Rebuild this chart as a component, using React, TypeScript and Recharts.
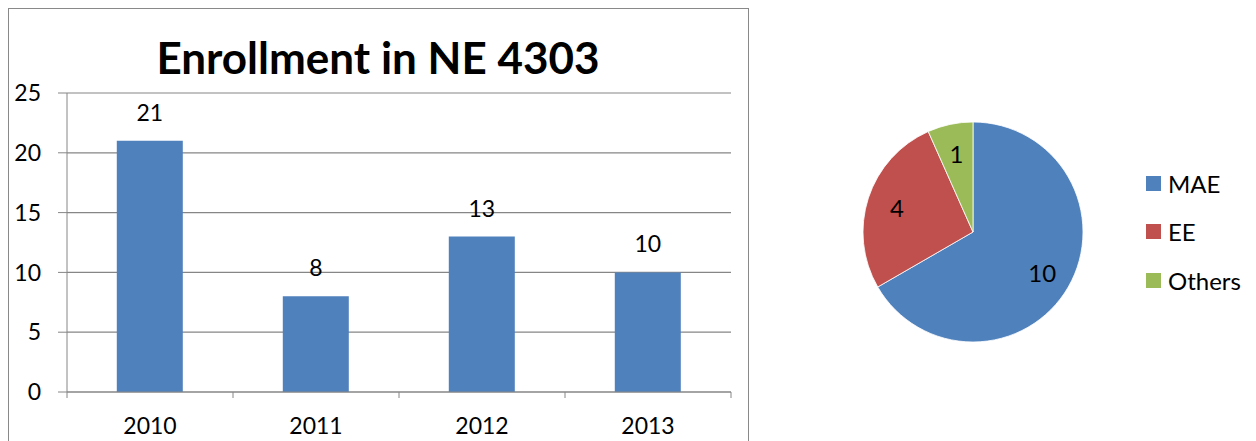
import React from "react";
import {
  BarChart,
  Bar,
  XAxis,
  YAxis,
  CartesianGrid,
  LabelList,
  PieChart,
  Pie,
  Cell,
  Legend,
} from "recharts";

const years = ["2010", "2011", "2012", "2013"];
const enrollment = [21, 8, 13, 10];
const yTicks = [0, 5, 10, 15, 20, 25];

const majors = ["MAE", "EE", "Others"];
const majorCounts = [10, 4, 1];

const FONT = "Lato, 'Open Sans', sans-serif";
const AXIS = "#868686";
const BLUE = "#4F81BD";
const PIE_COLORS = ["#4F81BD", "#C0504D", "#9BBB59"];

// bar chart layout
const BAR_W = 760;
const BAR_H = 441;
const PLOT_LEFT = 67;
const PLOT_RIGHT = 731;
const BAND = (PLOT_RIGHT - PLOT_LEFT) / years.length;

const barData = years.map((year, i) => ({ year, value: enrollment[i] }));
const pieData = majors.map((name, i) => ({ name, value: majorCounts[i] }));

function YearTick(props: any) {
  const { x, y, payload, index } = props;
  const half = BAND / 2;
  return (
    <g>
      <line x1={x - half} x2={x - half} y1={y} y2={y + 6} stroke={AXIS} />
      {index === years.length - 1 && (
        <line x1={x + half} x2={x + half} y1={y} y2={y + 6} stroke={AXIS} />
      )}
      <text x={x} y={y + 42} textAnchor="middle" fontSize={23} fontFamily={FONT} fill="#000">
        {payload.value}
      </text>
    </g>
  );
}

const RADIAN = Math.PI / 180;

function sliceLabel(props: any) {
  const { cx, cy, midAngle, value } = props;
  const r = 80;
  const x = cx + r * Math.cos(-midAngle * RADIAN);
  const y = cy + r * Math.sin(-midAngle * RADIAN);
  return (
    <text
      x={x}
      y={y}
      textAnchor="middle"
      dominantBaseline="central"
      fontSize={24}
      fontFamily={FONT}
      fill="#000"
    >
      {value}
    </text>
  );
}

// legend kept in the data order (MAE, EE, Others)
function PieLegend() {
  return (
    <div style={{ fontFamily: FONT, fontSize: 24, color: "#000" }}>
      {pieData.map((d, i) => (
        <div key={d.name} style={{ display: "flex", alignItems: "center", height: 48.5 }}>
          <span
            style={{
              display: "inline-block",
              width: 15,
              height: 15,
              background: PIE_COLORS[i],
              marginRight: 7,
            }}
          />
          <span>{d.name}</span>
        </div>
      ))}
    </div>
  );
}

export default function App() {
  return (
    <div style={{ position: "absolute", left: 0, top: 0, width: 1256, height: 441, background: "#fff", overflow: "hidden" }}>
      <div
        style={{
          position: "absolute",
          left: 8,
          top: 8,
          width: 741,
          height: 460,
          border: "1px solid #898989",
          boxSizing: "border-box",
        }}
      />
      <div
        style={{
          position: "absolute",
          left: 8,
          width: 740,
          top: 35,
          textAlign: "center",
          fontFamily: FONT,
          fontWeight: 700,
          fontSize: 44,
          lineHeight: "44px",
          color: "#000",
        }}
      >
        Enrollment in NE 4303
      </div>
      <div style={{ position: "absolute", left: 0, top: 0 }}>
        <BarChart
          width={BAR_W}
          height={BAR_H}
          data={barData}
          margin={{ top: 93, right: BAR_W - PLOT_RIGHT, bottom: 0, left: 0 }}
          barCategoryGap="30%"
        >
          <CartesianGrid vertical={false} stroke={AXIS} strokeWidth={1.2} />
          <XAxis
            dataKey="year"
            height={49}
            interval={0}
            tickLine={false}
            tickSize={0}
            tickMargin={0}
            stroke={AXIS}
            tick={<YearTick />}
          />
          <YAxis
            width={PLOT_LEFT}
            domain={[0, 25]}
            ticks={yTicks}
            tickSize={9}
            tickMargin={17}
            stroke={AXIS}
            tick={{ fill: "#000", fontSize: 23, fontFamily: FONT }}
          />
          <Bar dataKey="value" fill={BLUE} isAnimationActive={false}>
            <LabelList
              dataKey="value"
              position="top"
              offset={20}
              fill="#000"
              fontSize={23}
              fontFamily={FONT}
            />
          </Bar>
        </BarChart>
      </div>
      <div style={{ position: "absolute", left: 760, top: 0 }}>
        <PieChart width={496} height={441} margin={{ top: 0, right: 0, bottom: 0, left: 0 }}>
          <Pie
            data={pieData}
            dataKey="value"
            nameKey="name"
            cx={213}
            cy={232}
            outerRadius={110}
            startAngle={90}
            endAngle={-270}
            stroke="#fff"
            strokeWidth={0.8}
            label={sliceLabel}
            labelLine={false}
            isAnimationActive={false}
          >
            {pieData.map((_, i) => (
              <Cell key={i} fill={PIE_COLORS[i]} />
            ))}
          </Pie>
          <Legend
            layout="vertical"
            content={<PieLegend />}
            wrapperStyle={{ position: "absolute", left: 386, top: 159, width: 110 }}
          />
        </PieChart>
      </div>
    </div>
  );
}
